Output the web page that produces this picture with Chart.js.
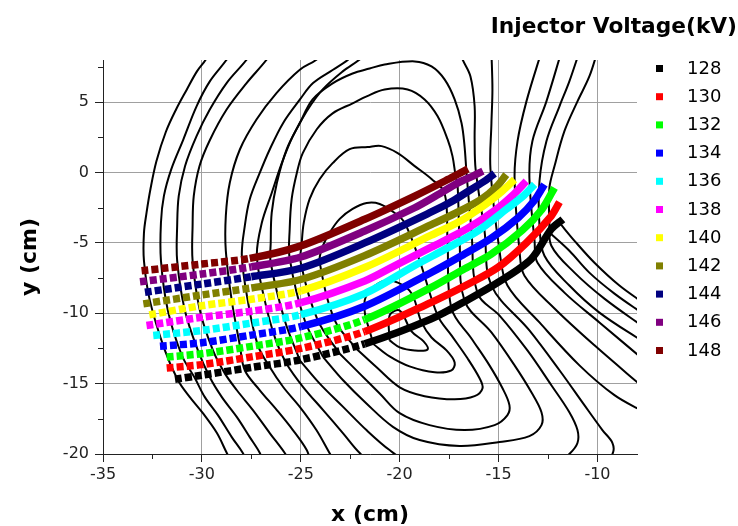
<!DOCTYPE html>
<html>
<head>
<meta charset="utf-8">
<script src="https://cdn.jsdelivr.net/npm/chart.js@4.4.1/dist/chart.umd.min.js"></script>
<style>
  html, body { margin: 0; padding: 0; background: #fff; }
</style>
</head>
<body>
<canvas id="myChart" width="738" height="526"></canvas>
<script>
// axis ticks
const xTicks = [-35, -30, -25, -20, -15, -10];
const yTicks = [-20, -15, -10, -5, 0, 5];
const xMinorTicks = [-32.5, -27.5, -22.5, -17.5, -12.5];
const yMinorTicks = [7.5, 2.5, -2.5, -7.5, -12.5, -17.5];

// injector voltages (kV) and their colours
const legendTitle = 'Injector Voltage(kV)';
const voltages = ['128', '130', '132', '134', '136', '138', '140', '142', '144', '146', '148'];
const colors = ['#000000', '#ff0000', '#00ff00', '#0000ff', '#00ffff', '#ff00ff',
                '#ffff00', '#808000', '#000080', '#800080', '#800000'];
// where the sparse (dotted) part of each trajectory stops
const dottedUntil = [-23, -24, -24, -25, -25, -26, -27, -28, -29, -29, -29];

// beam trajectories [x, y] in cm
const traj128 = [[-31.36,-14.69],[-30,-14.4],[-27.5,-13.85],[-25,-13.3],[-21.77,-12.17],[-18.4,-10.4],[-16.5,-9.0],[-15.03,-7.81],[-13.35,-6.15],[-12.34,-4.03],[-11.75,-3.32]];
const traj130 = [[-31.78,-13.89],[-30,-13.65],[-27.5,-13.1],[-25,-12.5],[-21.77,-11.3],[-18.4,-9.22],[-16.5,-7.9],[-15.03,-6.74],[-13.6,-5.0],[-12.34,-3.09],[-11.92,-2.1]];
const traj132 = [[-31.78,-13.11],[-30,-12.87],[-27.5,-12.35],[-25,-11.75],[-21.77,-10.45],[-18.4,-8.16],[-16.8,-6.9],[-15.37,-5.8],[-13.8,-4.1],[-12.8,-2.6],[-12.17,-1.08]];
const traj134 = [[-32.12,-12.34],[-30,-12.09],[-27.5,-11.55],[-25,-10.95],[-21.77,-9.5],[-18.4,-7.1],[-16.8,-5.85],[-15.4,-4.7],[-14.0,-3.2],[-13.2,-2.0],[-12.68,-0.84]];
const traj136 = [[-32.46,-11.58],[-30,-11.22],[-27.5,-10.7],[-25,-10.1],[-21.77,-8.6],[-19.24,-6.6],[-17.5,-5.3],[-16.0,-4.1],[-14.6,-2.6],[-13.7,-1.6],[-13.18,-0.84]];
const traj138 = [[-32.8,-10.87],[-30,-10.28],[-27.5,-9.85],[-25,-9.25],[-21.77,-7.7],[-20.09,-6.5],[-18.4,-5.3],[-16.6,-4.0],[-15.2,-2.7],[-14.2,-1.5],[-13.6,-0.61]];
const traj140 = [[-32.66,-10.11],[-30,-9.46],[-27.5,-9.0],[-25,-8.4],[-21.77,-6.75],[-18.4,-4.45],[-17.0,-3.5],[-15.7,-2.3],[-14.8,-1.3],[-14.19,-0.49]];
const traj142 = [[-32.96,-9.33],[-30,-8.7],[-27.5,-8.2],[-25,-7.6],[-21.77,-5.9],[-18.4,-3.7],[-17.2,-2.9],[-15.88,-1.9],[-15.1,-1.0],[-14.61,-0.14]];
const traj144 = [[-32.88,-8.51],[-30,-7.92],[-27.5,-7.4],[-25,-6.8],[-21.77,-5.0],[-18.4,-2.8],[-17.3,-2.0],[-16.39,-1.2],[-15.7,-0.6],[-15.2,-0.06]];
const traj146 = [[-33.13,-7.76],[-30,-7.21],[-27.5,-6.7],[-25,-6.0],[-21.77,-4.15],[-19.24,-2.5],[-18.1,-1.6],[-17.05,-0.73],[-16.3,-0.25],[-15.79,0.10]];
const traj148 = [[-33.05,-6.98],[-30,-6.5],[-27.58,-6.1],[-25,-5.21],[-21.77,-3.32],[-19.24,-1.67],[-17.56,-0.49],[-16.9,0.0],[-16.55,0.26]];
const trajectories = [traj128, traj130, traj132, traj134, traj136, traj138, traj140, traj142, traj144, traj146, traj148];

// field lines [x, y] in cm (black contours)
const lineA1 = [[-29.5,8.96],[-29.8,8.04],[-30.25,7.19],[-30.76,5.91],[-31.3,4.5],[-31.82,2.9],[-32.3,0.8],[-32.6,-1.17],[-32.8,-2.87],[-32.93,-4.3],[-32.93,-6.26],[-32.63,-9.1],[-31.87,-12.64],[-31.21,-14.76],[-30.61,-15.96],[-29.95,-17.1],[-29.24,-18.51],[-28.74,-19.93],[-28.49,-20.57]];
const lineA2 = [[-28.33,8.96],[-28.75,8.02],[-29.6,6.48],[-30.27,4.71],[-30.94,2.35],[-31.55,0.23],[-31.92,-1.66],[-32.07,-3.55],[-32.07,-6.26],[-31.72,-9.8],[-31.01,-13.0],[-30.35,-14.62],[-29.85,-15.96],[-29.19,-17.24],[-28.49,-18.8],[-27.93,-19.93],[-27.73,-20.57]];
const lineA3 = [[-27.32,8.96],[-27.74,8.02],[-28.75,6.36],[-29.6,4.48],[-30.27,2.59],[-30.85,0.47],[-31.17,-1.66],[-31.25,-3.79],[-31.25,-6.26],[-30.86,-9.8],[-30.2,-12.64],[-29.6,-14.55],[-28.99,-15.96],[-28.23,-17.38],[-27.58,-18.8],[-27.07,-19.93],[-26.92,-20.57]];
const lineA4 = [[-26.31,8.96],[-26.73,8.02],[-27.74,6.36],[-28.75,4.48],[-29.6,2.3],[-30.12,0.47],[-30.41,-1.66],[-30.47,-3.79],[-30.47,-6.26],[-30.1,-9.8],[-29.44,-12.64],[-28.84,-14.27],[-28.23,-15.47],[-27.42,-16.88],[-26.57,-18.51],[-25.81,-19.93],[-25.56,-20.57]];
const lineA5 = [[-23.54,8.96],[-24.21,8.02],[-25.05,7.31],[-26.23,5.65],[-27.24,3.77],[-28.08,1.64],[-28.59,-0.72],[-28.79,-3.08],[-28.79,-5.56],[-28.49,-9.1],[-28.08,-12.28],[-27.83,-14.05],[-27.07,-15.47],[-26.21,-16.88],[-25.4,-18.3],[-24.7,-19.72],[-24.5,-20.57]];
const lineA6 = [[-21.92,8.96],[-22.61,8.02],[-23.37,7.31],[-24.38,6.36],[-25.05,5.18],[-25.89,3.53],[-26.57,1.64],[-27.07,-0.01],[-27.58,-1.9],[-27.83,-3.79],[-27.98,-5.91],[-27.68,-9.1],[-27.17,-12.28],[-26.57,-13.82],[-25.89,-15.24],[-25.05,-16.65],[-24.21,-18.3],[-23.54,-19.95],[-23.28,-20.57]];
const lineA7 = [[-21.26,8.96],[-22.02,8.04],[-22.88,7.19],[-23.89,5.91],[-24.7,4.36],[-25.4,2.59],[-25.96,0.67],[-26.47,-1.45],[-26.97,-3.57],[-27.22,-5.91],[-26.82,-9.1],[-26.26,-11.93],[-25.72,-13.58],[-24.88,-15.24],[-23.87,-16.88],[-22.86,-18.53],[-22.02,-19.93],[-21.01,-21.13],[-9.9,-21.13],[-9.24,-20.0],[-9.24,-19.22],[-9.75,-18.3],[-10.66,-16.53],[-11.92,-14.05],[-13.44,-11.22],[-15.36,-8.03],[-15.71,-4.14],[-16.16,0.25],[-16.21,2.37],[-16.21,4.71],[-16.42,6.83],[-16.82,8.04],[-17.07,8.96]];
const loopU4 = [[-25.05,-13.34],[-24.04,-15.0],[-22.86,-16.65],[-21.68,-18.3],[-20.51,-19.72],[-19.5,-20.57],[-15.96,-21.13],[-12.17,-20.78],[-11.42,-20.0],[-11.01,-19.22],[-11.01,-18.3],[-11.42,-17.03],[-12.33,-15.11],[-13.54,-12.64],[-14.95,-10.16],[-16.06,-8.6],[-16.37,-4.14],[-16.62,-0.03],[-16.72,1.88],[-16.87,3.51],[-17.22,5.2],[-17.73,6.62],[-18.39,7.54],[-19.24,7.9],[-20.76,7.68],[-21.52,7.39],[-22.38,7.04],[-23.39,6.34],[-24.4,5.2],[-25.05,3.51],[-25.71,1.66],[-26.21,-0.74],[-26.47,-2.87],[-26.52,-4.99],[-26.52,-6.41],[-25.81,-10.51],[-25.05,-13.34]];
const loopU3 = [[-23.87,-13.11],[-22.86,-14.76],[-21.68,-16.41],[-20.34,-18.07],[-18.99,-19.01],[-16.97,-19.43],[-14.95,-19.15],[-13.44,-18.73],[-12.83,-17.95],[-12.83,-17.03],[-13.34,-15.61],[-14.19,-13.7],[-15.36,-11.36],[-16.72,-9.1],[-16.97,-4.85],[-17.07,-0.95],[-17.17,-0.25],[-17.33,1.17],[-17.58,2.37],[-18.08,4.0],[-18.74,5.2],[-19.6,5.91],[-20.76,5.91],[-21.67,5.42],[-22.38,4.92],[-23.39,4.21],[-24.19,3.08],[-24.9,1.38],[-25.2,-0.03],[-25.46,-1.87],[-25.56,-4.0],[-25.56,-6.12],[-24.8,-10.51],[-23.87,-13.11]];
const loopU2 = [[-23.03,-12.87],[-22.02,-14.29],[-21.01,-15.7],[-20.0,-17.1],[-18.49,-17.95],[-16.72,-18.3],[-15.2,-17.95],[-14.55,-17.24],[-14.45,-16.53],[-14.8,-15.33],[-15.46,-13.7],[-16.37,-11.79],[-17.38,-9.66],[-17.58,-4.85],[-17.73,-1.45],[-18.39,-0.46],[-19.24,0.46],[-20.1,1.38],[-20.91,1.88],[-21.62,1.81],[-22.53,1.66],[-23.39,0.67],[-24.04,-0.46],[-24.55,-1.87],[-24.85,-3.57],[-24.95,-4.99],[-25.0,-6.41],[-24.14,-10.51],[-23.03,-12.87]];
const loopU1 = [[-22.19,-12.52],[-21.18,-13.82],[-20.0,-15.26],[-18.74,-15.89],[-17.22,-16.11],[-16.21,-15.89],[-15.81,-15.33],[-15.96,-14.62],[-16.57,-13.2],[-17.38,-11.57],[-18.08,-10.16],[-18.99,-6.26],[-19.75,-3.57],[-20.25,-2.87],[-21.01,-2.23],[-21.67,-2.16],[-22.38,-2.58],[-23.03,-3.29],[-23.54,-4.28],[-23.94,-5.42],[-24.04,-6.41],[-23.28,-10.51],[-22.19,-12.52]];
const loopIn2 = [[-21.35,-12.16],[-20.51,-13.06],[-19.5,-13.77],[-18.23,-14.19],[-17.38,-14.05],[-17.22,-13.49],[-17.63,-12.64],[-18.39,-11.72],[-18.89,-10.65],[-19.5,-8.39],[-20.76,-7.68],[-21.77,-9.1],[-21.35,-12.16]];
const loopIn1 = [[-20.51,-11.93],[-20.0,-12.42],[-19.24,-12.64],[-18.59,-12.57],[-18.79,-12.0],[-19.4,-11.29],[-20.0,-9.8],[-20.51,-10.16],[-20.51,-11.93]];
const lineR1 = [[-11.9,-3.6],[-11.16,-4.85],[-10.15,-6.41],[-8.89,-8.03],[-7.63,-9.31]];
const lineR2 = [[-12.4,-4.3],[-11.42,-5.56],[-10.41,-7.11],[-9.14,-8.6],[-7.63,-10.09]];
const lineR3 = [[-10.0,8.6],[-10.41,6.83],[-11.01,5.06],[-11.67,2.94],[-12.17,0.46],[-12.43,-1.1],[-12.43,-3.43],[-12.33,-5.2],[-11.16,-7.11],[-9.65,-8.96],[-7.63,-11.01]];
const lineR4 = [[-10.91,8.6],[-11.42,6.48],[-11.92,4.71],[-12.58,2.23],[-12.93,-0.6],[-12.93,-3.79],[-12.68,-5.91],[-11.42,-8.03],[-9.9,-9.95],[-7.63,-12.07]];
const lineR5 = [[-11.82,8.6],[-12.58,5.06],[-13.29,2.23],[-13.44,-0.39],[-13.18,-4.85],[-13.03,-6.41],[-11.67,-8.53],[-9.9,-10.65],[-7.63,-13.34]];
const lineR6 = [[-12.83,8.6],[-13.59,5.06],[-14.04,2.23],[-14.19,-0.39],[-13.94,-5.56],[-13.69,-7.33],[-12.17,-9.66],[-10.15,-12.28],[-7.63,-15.33]];
const lineR7 = [[-15.36,8.6],[-15.31,5.91],[-15.36,3.51],[-15.41,0.25],[-14.95,-5.56],[-14.55,-8.03],[-12.93,-10.65],[-10.91,-13.7],[-9.14,-15.82],[-7.63,-17.03]];
const fieldLines = [lineA1, lineA2, lineA3, lineA4, lineA5, lineA6, lineA7,
                    loopU4, loopU3, loopU2, loopU1, loopIn2, loopIn1,
                    lineR1, lineR2, lineR3, lineR4, lineR5, lineR6, lineR7];

const toXY = pts => pts.map(([x, y]) => ({x, y}));

Chart.defaults.font.family = '"DejaVu Sans", sans-serif';

// datasets: trajectories on top (order 1), field lines under them (order 2)
const datasets = [];
trajectories.forEach((pts, i) => {
  datasets.push({
    label: voltages[i],
    data: toXY(pts),
    borderColor: colors[i],
    backgroundColor: colors[i],
    borderWidth: 7.5,
    pointRadius: 0,
    tension: 0.3,
    order: 1,
    isTrajectory: true,
    segment: {
      borderDash: c => c.p0.parsed.x < dottedUntil[i] ? [7, 3] : undefined
    }
  });
});
fieldLines.forEach(pts => {
  datasets.push({
    label: '',
    data: toXY(pts),
    borderColor: '#000000',
    borderWidth: 2,
    pointRadius: 0,
    tension: 0.35,
    order: 2
  });
});

// minor ticks + legend drawn by hand
const minorTicks = {
  id: 'minorTicks',
  afterDraw(chart) {
    const {ctx, chartArea, scales: {x, y}} = chart;
    ctx.save();
    ctx.strokeStyle = '#222';
    ctx.lineWidth = 1;
    ctx.beginPath();
    xMinorTicks.forEach(v => {
      const px = Math.round(x.getPixelForValue(v)) + 0.5;
      ctx.moveTo(px, chartArea.bottom);
      ctx.lineTo(px, chartArea.bottom + 5);
    });
    yMinorTicks.forEach(v => {
      const py = Math.round(y.getPixelForValue(v)) + 0.5;
      ctx.moveTo(chartArea.left, py);
      ctx.lineTo(chartArea.left - 5, py);
    });
    ctx.stroke();
    ctx.restore();
  }
};

const voltageLegend = {
  id: 'voltageLegend',
  afterDraw(chart) {
    const {ctx, chartArea} = chart;
    const left = chartArea.right + 19;
    ctx.save();
    ctx.fillStyle = '#000';
    ctx.font = 'bold 21.7px "DejaVu Sans"';
    ctx.textAlign = 'right';
    ctx.textBaseline = 'middle';
    ctx.fillText(legendTitle, chart.width - 1, 27);
    ctx.font = '18px "DejaVu Sans"';
    ctx.textAlign = 'left';
    chart.data.datasets.filter(d => d.isTrajectory).forEach((d, i) => {
      const cy = 68 + i * 28.2;
      ctx.fillStyle = d.borderColor;
      ctx.fillRect(left, cy - 3, 7, 7);
      ctx.fillStyle = '#000';
      ctx.fillText(d.label, left + 31, cy + 1);
    });
    ctx.restore();
  }
};

const ctx = document.getElementById('myChart');
new Chart(ctx, {
  type: 'line',
  data: { datasets },
  options: {
    responsive: false,
    animation: false,
    events: [],
    layout: { padding: { top: 60, right: 101, bottom: 0, left: 0 } },
    elements: { line: { capBezierPoints: false, borderCapStyle: 'butt' } },
    scales: {
      x: {
        type: 'linear',
        min: -35,
        max: -8,
        afterBuildTicks: s => { s.ticks = xTicks.map(v => ({value: v})); },
        afterFit: s => { s.height = 72; },
        grid: { color: '#a0a0a0', tickColor: '#222', tickLength: 8 },
        border: { color: '#222' },
        ticks: { autoSkip: false, maxRotation: 0, color: '#222', padding: 3, font: { size: 16 } },
        title: { display: true, text: 'x (cm)', color: '#000', font: { size: 22, weight: 'bold', lineHeight: 1 }, padding: { top: 0, bottom: 0 } }
      },
      y: {
        type: 'linear',
        min: -20,
        max: 8,
        afterBuildTicks: s => { s.ticks = yTicks.map(v => ({value: v})); },
        afterFit: s => { s.width = 103; },
        grid: { color: '#a0a0a0', tickColor: '#222', tickLength: 8 },
        border: { color: '#222' },
        ticks: { color: '#222', padding: 6, font: { size: 16 } },
        title: { display: true, text: 'y (cm)', color: '#000', font: { size: 22, weight: 'bold', lineHeight: 1 }, padding: { top: 19, bottom: 0 } }
      }
    },
    plugins: {
      legend: { display: false },
      tooltip: { enabled: false }
    }
  },
  plugins: [minorTicks, voltageLegend]
});
</script>
</body>
</html>
